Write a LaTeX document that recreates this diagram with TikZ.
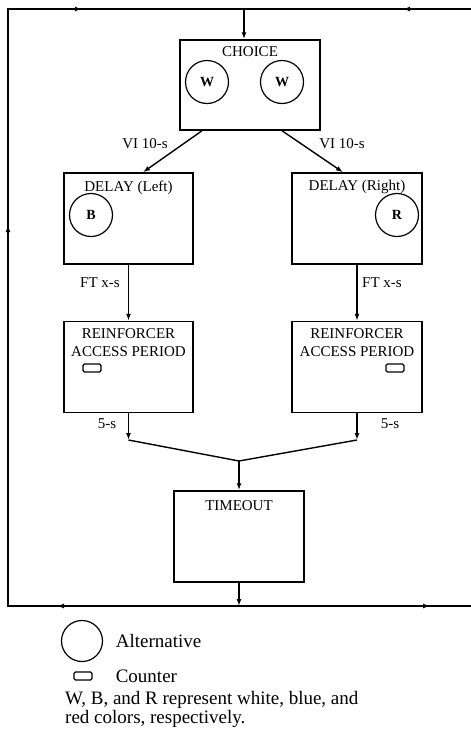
\documentclass[tikz,border=0pt]{standalone}
\usepackage{fontspec}
\setmainfont{Liberation Serif}
\usetikzlibrary{arrows.meta,positioning,decorations.markings}
\tikzset{
  stagebox/.style={
    draw,
    line width=1.5pt,
    minimum width=129pt,
    minimum height=91pt,
    inner sep=0pt
  },
  boxtitle/.style={
    font=\fontsize{15}{18}\selectfont,
    align=center,
    inner sep=0pt
  },
  keycircle/.style={
    draw,
    circle,
    line width=1.2pt,
    minimum size=43pt,
    inner sep=0pt,
    font=\fontsize{14}{16}\selectfont\bfseries
  },
  counterbox/.style={
    draw,
    line width=1.2pt,
    rounded corners=1.5pt,
    minimum width=18pt,
    minimum height=8pt,
    inner sep=0pt
  },
  edgelabel/.style={
    font=\fontsize{15}{18}\selectfont,
    inner sep=0pt
  },
  legendtext/.style={
    font=\fontsize{19}{17}\selectfont,
    inner sep=0pt
  },
  flowarrow/.style={
    -{Latex[length=7pt,width=5pt]},
    line width=1.4pt
  },
  flowline/.style={
    line width=1.4pt
  },
  tipat/.style={
    postaction={decorate,decoration={markings,
      mark=at position #1 with {\arrow{Latex[length=7pt,width=5pt]}}}}
  }
}

\begin{document}
\begin{tikzpicture}[x=1pt,y=-1pt]
    \useasboundingbox (0,0) rectangle (471,732);

    % stages
    \node[stagebox, minimum width=140pt, minimum height=90pt] (choice) at (250,85) {};
    \node[stagebox] (delayL) at (128.5,218.5) {};
    \node[stagebox, minimum width=130pt] (delayR) at (357,218.5) {};
    \node[stagebox, below=56pt of delayL] (reinfL) {};
    \node[stagebox, minimum width=130pt, below=56pt of delayR] (reinfR) {};
    \node[stagebox, minimum width=130pt] (timeout) at (239,536.5) {};

    % titles
    \node[boxtitle, below=7pt of choice.north] (choicetitle) {CHOICE};
    \node[boxtitle, below=8pt of delayL.north] (delayLtitle) {DELAY (Left)};
    \node[boxtitle, below=8pt of delayR.north] (delayRtitle) {DELAY (Right)};
    \node[boxtitle, below=8pt of reinfL.north] (reinfLtitle) {REINFORCER\\ACCESS PERIOD};
    \node[boxtitle, below=8pt of reinfR.north] (reinfRtitle) {REINFORCER\\ACCESS PERIOD};
    \node[boxtitle, below=10pt of timeout.north] (timeouttitle) {TIMEOUT};

    % alternatives and counters
    \node[keycircle] (choiceW1) at (207,82) {W};
    \node[keycircle] (choiceW2) at (282,82) {W};
    \node[keycircle] (delayB) at (91,215) {B};
    \node[keycircle] (delayRR) at (397,215) {R};
    \node[counterbox] (counterL) at (92,368) {};
    \node[counterbox] (counterR) at (395,368) {};

    % loop corners
    \coordinate (topjoin) at (244,9);
    \coordinate (topleft) at (8,9);
    \coordinate (topright) at (471,9);
    \coordinate (botjoin) at (239,606);
    \coordinate (botleft) at (8,606);
    \coordinate (botright) at (471,606);
    \coordinate (mergeL) at (128.5,440);
    \coordinate (mergeR) at (357,440);
    \coordinate (merge) at (239,461);

    \draw[flowarrow] (topjoin) -- (topjoin |- choice.north);
    \draw[flowarrow] ([xshift=-48pt]choice.south) -- ([xshift=14.5pt]delayL.north);
    \draw[flowarrow] ([xshift=32pt]choice.south) -- ([xshift=-14pt]delayR.north);
    \draw[flowarrow] (delayL) -- (reinfL);
    \draw[flowarrow] (delayR) -- (reinfR);
    \draw[flowarrow] (reinfL) -- (mergeL);
    \draw[flowarrow] (reinfR) -- (mergeR);
    \draw[flowline] (mergeL) -- (merge) -- (mergeR);
    \draw[flowarrow] (merge) -- (timeout);
    \draw[flowarrow] (timeout) -- (botjoin);
    \draw[flowline, tipat=182pt, tipat=612pt, tipat=902pt]
        (botjoin) -- (botleft) -- (topleft) -- (topjoin);
    \draw[flowline, tipat=191pt] (botjoin) -- (botright);
    \draw[flowline, tipat=68pt] (topright) -- (topjoin);

    % schedule labels
    \node[edgelabel] (viL) at (145,144) {VI 10-s};
    \node[edgelabel] (viR) at (342,144) {VI 10-s};
    \node[edgelabel] (ftL) at (100,283) {FT x-s};
    \node[edgelabel] (ftR) at (382,283) {FT x-s};
    \node[edgelabel] (accL) at (107,424) {5-s};
    \node[edgelabel] (accR) at (390,424) {5-s};

    % legend
    \node[keycircle, minimum size=41pt] (keyalt) at (82,641) {};
    \node[legendtext, right=12.5pt of keyalt] (keyalttext) {Alternative};
    \node[counterbox] (keycount) at (83,676) {};
    \node[legendtext, right=23pt of keycount] (keycounttext) {Counter};
    \node[legendtext, align=left, anchor=base west] (keynote) at (65,723)
        {W, B, and R represent white, blue, and\\red colors, respectively.};
\end{tikzpicture}
\end{document}
